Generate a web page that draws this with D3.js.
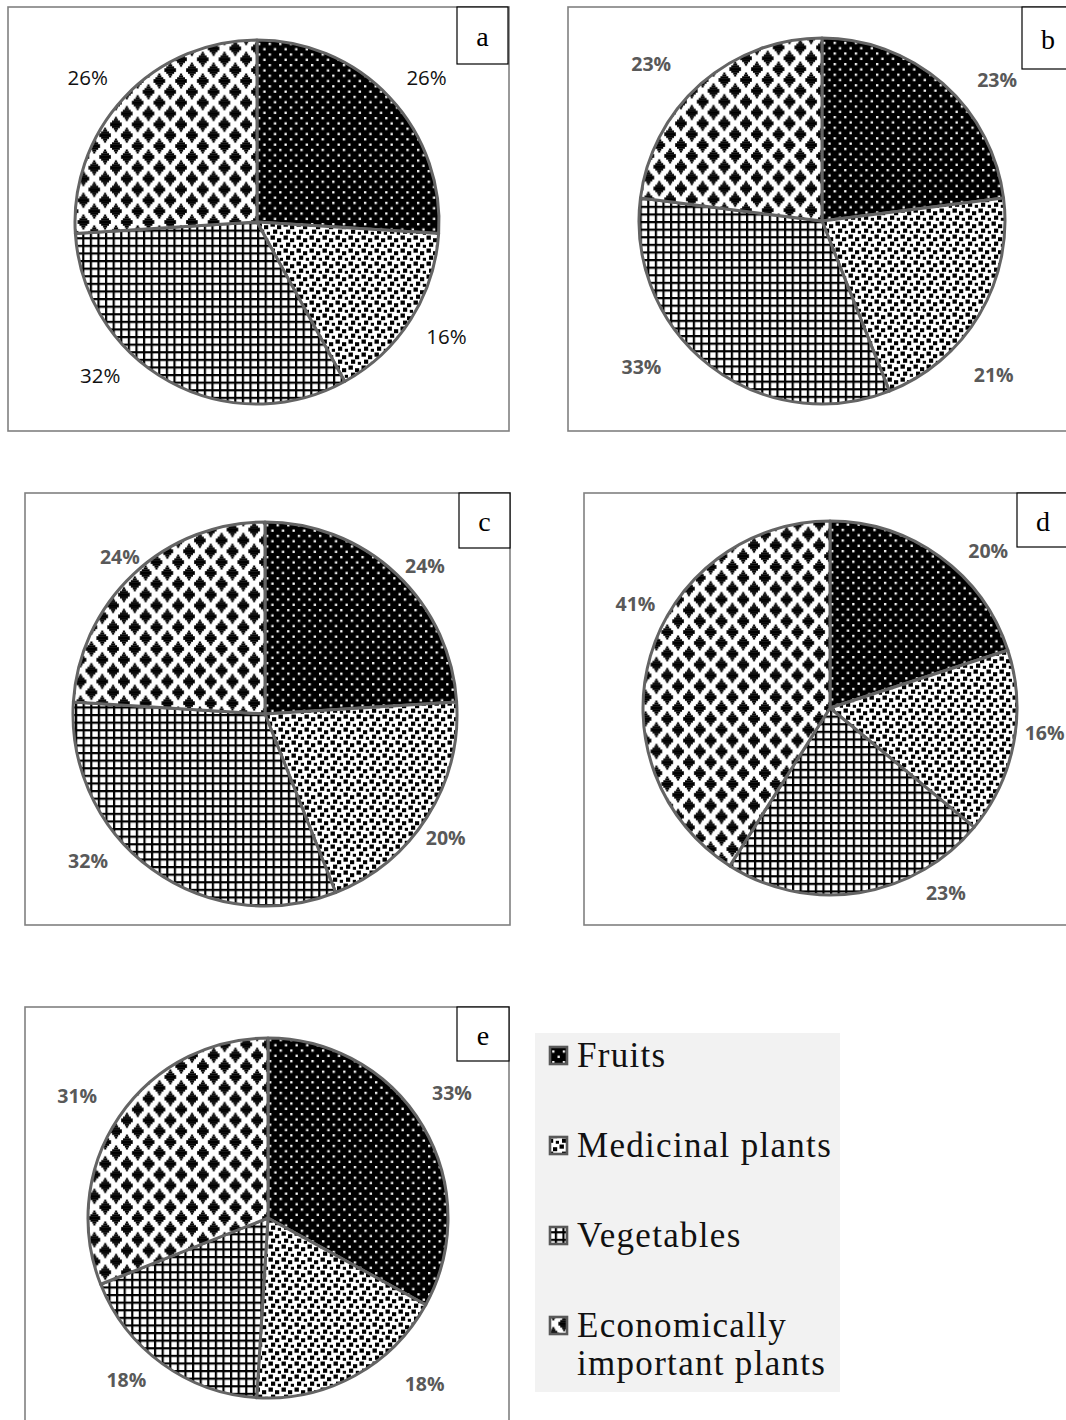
<!DOCTYPE html>
<html>
<head>
<meta charset="utf-8">
<script src="https://cdn.jsdelivr.net/npm/d3@7"></script>
<style>
  html, body { margin: 0; padding: 0; background: #fff; }
  svg { display: block; }
</style>
</head>
<body>
<svg id="chart" width="1066" height="1420"></svg>
<script>
// Plant categories, drawn clockwise from 12 o'clock
const categories = ["Fruits", "Medicinal plants", "Vegetables", "Economically important plants"];
const patternKeys = ["fruits", "medicinal", "vegetables", "economic"];

// Percentage share of each category, one array per site
const sharesA = [26, 16, 32, 26];
const sharesB = [23, 21, 33, 23];
const sharesC = [24, 20, 32, 24];
const sharesD = [20, 16, 23, 41];
const sharesE = [33, 18, 18, 31];

const panelNames = ["a", "b", "c", "d", "e"];
const panelShares = [sharesA, sharesB, sharesC, sharesD, sharesE];

// Layout of each panel: frame, label tab, pie centre/radius, label placement (angle°, distance)
const layout = {
  a: { frame: [8, 7, 501, 424], tab: [457, 7, 51, 57], cx: 257, cy: 222, r: 182, bold: false,
       labels: [[49.5, 223], [121, 221], [225.7, 219], [310.6, 223]] },
  b: { frame: [568, 7, 520, 424], tab: [1022, 7, 60, 62], cx: 822, cy: 221, r: 183, bold: true,
       labels: [[51.1, 225], [131.7, 230], [231.1, 232], [312.6, 232]] },
  c: { frame: [25, 493, 485, 432], tab: [459, 493, 51, 55], cx: 265, cy: 714, r: 192, bold: true,
       labels: [[47.2, 218], [124.4, 219], [230.3, 230], [317.3, 214]] },
  d: { frame: [584, 493, 500, 432], tab: [1017, 493, 60, 54], cx: 830, cy: 708, r: 187, bold: true,
       labels: [[45.2, 223], [96.6, 216], [147.8, 217.5], [298.3, 221]] },
  e: { frame: [25, 1007, 484, 440], tab: [457, 1007, 52, 54], cx: 268, cy: 1218, r: 180, bold: true,
       labels: [[55.6, 223], [136.6, 228], [221.2, 215], [302.8, 227]] }
};

const svg = d3.select("#chart");
const defs = svg.append("defs");

// ---- fill patterns ----
function makePattern(id, w, h, draw) {
  const p = defs.append("pattern")
    .attr("id", id)
    .attr("patternUnits", "userSpaceOnUse")
    .attr("width", w).attr("height", h);
  draw(p);
  return p;
}

// Fruits: black with staggered white dots
makePattern("pat-fruits", 10.6, 10.6, p => {
  p.append("rect").attr("width", 10.6).attr("height", 10.6).attr("fill", "#000");
  p.append("rect").attr("x", 1).attr("y", 1).attr("width", 2.3).attr("height", 2.3).attr("fill", "#fff");
  p.append("rect").attr("x", 6.3).attr("y", 6.3).attr("width", 2.3).attr("height", 2.3).attr("fill", "#fff");
});

// Medicinal plants: white with scattered black squares
makePattern("pat-medicinal", 13, 13, p => {
  p.append("rect").attr("width", 13).attr("height", 13).attr("fill", "#fff");
  [[0.5, 0.5, 4.4, 4.2], [7, 3.2, 4.2, 4], [3, 7.6, 4.2, 4.2], [9.8, 9.8, 3.2, 3]].forEach(s =>
    p.append("rect").attr("x", s[0]).attr("y", s[1]).attr("width", s[2]).attr("height", s[3]).attr("fill", "#000"));
});

// Vegetables: black grid
makePattern("pat-vegetables", 7.6, 7.6, p => {
  p.append("rect").attr("width", 7.6).attr("height", 7.6).attr("fill", "#fff");
  p.append("rect").attr("width", 7.6).attr("height", 2.2).attr("fill", "#000");
  p.append("rect").attr("width", 2.2).attr("height", 7.6).attr("fill", "#000");
});

// Economically important plants: stepped black diamonds on white
makePattern("pat-economic", 21.7, 21.7, p => {
  p.append("rect").attr("width", 21.7).attr("height", 21.7).attr("fill", "#fff");
  const half = 7.4, step = 1.85;
  const centres = [[0, 0], [21.7, 0], [0, 21.7], [21.7, 21.7], [10.85, 10.85]];
  centres.forEach(([x0, y0]) => {
    for (let yy = -half; yy < half - 0.01; yy += step) {
      const mid = yy + step / 2;
      const hw = Math.max(half - Math.abs(mid) - 0.7, 1.1);
      p.append("rect")
        .attr("x", x0 - hw).attr("y", y0 + yy)
        .attr("width", 2 * hw).attr("height", step + 0.05)
        .attr("fill", "#000");
    }
  });
});

// ---- panels ----
const pie = d3.pie().sort(null).value(d => d);

panelNames.forEach((name, i) => {
  const L = layout[name];
  const shares = panelShares[i];
  const g = svg.append("g");

  // chart frame
  g.append("rect")
    .attr("x", L.frame[0]).attr("y", L.frame[1])
    .attr("width", L.frame[2]).attr("height", L.frame[3])
    .attr("fill", "#fff").attr("stroke", "#808080").attr("stroke-width", 1.6);

  const arc = d3.arc().innerRadius(0).outerRadius(L.r);
  const pg = g.append("g").attr("transform", `translate(${L.cx},${L.cy})`);

  pg.selectAll("path.slice")
    .data(pie(shares))
    .join("path")
    .attr("class", "slice")
    .attr("d", arc)
    .attr("fill", (d, k) => `url(#pat-${patternKeys[k]})`)
    .attr("stroke", "#646464")
    .attr("stroke-width", 3)
    .attr("stroke-linejoin", "round");

  // percentage labels
  pg.selectAll("text.pct")
    .data(shares)
    .join("text")
    .attr("class", "pct")
    .attr("x", (d, k) => L.labels[k][1] * Math.sin(L.labels[k][0] * Math.PI / 180))
    .attr("y", (d, k) => -L.labels[k][1] * Math.cos(L.labels[k][0] * Math.PI / 180))
    .attr("text-anchor", "middle")
    .attr("dominant-baseline", "central")
    .attr("font-family", "'Open Sans', 'Noto Sans', sans-serif")
    .attr("font-size", L.bold ? 19.5 : 20.5)
    .attr("font-weight", L.bold ? 700 : 400)
    .attr("fill", L.bold ? "#595959" : "#111")
    .text(d => d + "%");

  // panel letter tab
  g.append("rect")
    .attr("x", L.tab[0]).attr("y", L.tab[1])
    .attr("width", L.tab[2]).attr("height", L.tab[3])
    .attr("fill", "#fff").attr("stroke", "#000").attr("stroke-width", 1.2);
  g.append("text")
    .attr("x", Math.min(L.tab[0] + L.tab[2] / 2, L.tab[0] + 26))
    .attr("y", L.tab[1] + L.tab[3] / 2 + 1)
    .attr("text-anchor", "middle")
    .attr("dominant-baseline", "central")
    .attr("font-family", "'Liberation Serif', 'Times New Roman', serif")
    .attr("font-size", 28)
    .attr("fill", "#000")
    .text(name);
});

// ---- legend ----
const legend = svg.append("g");
legend.append("rect")
  .attr("x", 535).attr("y", 1033).attr("width", 305).attr("height", 359)
  .attr("fill", "#f2f2f2");

const legendLines = [["Fruits"], ["Medicinal plants"], ["Vegetables"], ["Economically", "important plants"]];
const legendY = d3.scalePoint().domain(categories).range([1067, 1337]);

categories.forEach((c, k) => {
  const y = legendY(c);
  legend.append("rect")
    .attr("x", 550).attr("y", y - 20).attr("width", 17).attr("height", 17)
    .attr("fill", `url(#pat-${patternKeys[k]})`)
    .attr("stroke", "#595959").attr("stroke-width", 2.6);
  const t = legend.append("text")
    .attr("x", 577).attr("y", y)
    .attr("font-family", "'Liberation Serif', 'Times New Roman', serif")
    .attr("font-size", 35)
    .attr("letter-spacing", 1.3)
    .attr("fill", "#111");
  legendLines[k].forEach((line, j) => {
    t.append("tspan").attr("x", 577).attr("dy", j === 0 ? 0 : 38).text(line);
  });
});
</script>
</body>
</html>
